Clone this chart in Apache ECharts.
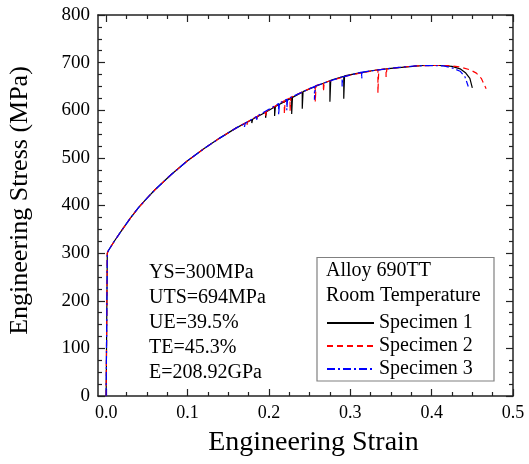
<!DOCTYPE html>
<html>
<head>
<meta charset="utf-8">
<script src="https://cdn.jsdelivr.net/npm/echarts@6/dist/echarts.min.js"></script>
<style>html,body{margin:0;padding:0;background:#fff}#c{width:529px;height:464px}</style>
</head>
<body>
<div id="c"></div>
<script>
// ---- data ----
var seriesNames = ['Specimen 1', 'Specimen 2', 'Specimen 3'];
var xMajorTicks = [0, 0.1, 0.2, 0.3, 0.4, 0.5];
var xMinorTicks = [0.025, 0.05, 0.075, 0.125, 0.15, 0.175, 0.225, 0.25, 0.275, 0.325, 0.35, 0.375, 0.425, 0.45, 0.475];
var titleLines = ['Alloy 690TT', 'Room Temperature'];
var propertyLines = ['YS=300MPa', 'UTS=694MPa', 'UE=39.5%', 'TE=45.3%', 'E=208.92GPa'];

var specimen1 = [[0,0],[0.0014,300],[0.003,306],[0.01,325],[0.02,350],[0.03,374],[0.04,396],[0.05,415],[0.06,433],[0.08,465],[0.10,494],[0.12,519],[0.14,542],[0.16,563],
 [0.179,580],[0.179,573],[0.180,581],[0.196,596],[0.196,584],[0.197,597],[0.207,607],[0.207,588],[0.208,608],[0.228,626],[0.228,592],[0.229,627],
 [0.241,638],[0.241,603],[0.242,639],[0.26,652],[0.275,662],[0.275,618],[0.276,663],[0.292,671],[0.292,624],[0.293,672],[0.31,678],[0.33,684],
 [0.35,688],[0.37,691],[0.39,694],[0.41,694],[0.425,692],[0.435,687],[0.442,678],[0.447,667],[0.45,647]];

var specimen2 = [[0,0],[0.0014,300],[0.003,306],[0.01,325],[0.02,350],[0.03,374],[0.04,396],[0.05,415],[0.06,433],[0.08,465],[0.10,494],[0.12,519],[0.14,542],[0.16,563],
 [0.173,575],[0.173,569],[0.174,576],[0.185,587],[0.185,578],[0.186,588],[0.196,597],[0.196,586],[0.197,598],[0.219,620],[0.219,592],[0.220,621],
 [0.226,626],[0.226,598],[0.227,627],[0.257,651],[0.257,618],[0.258,652],[0.267,657],[0.267,639],[0.268,658],[0.30,674],[0.334,685],[0.334,636],
 [0.335,685],[0.344,687],[0.344,670],[0.345,687],[0.36,690],[0.38,693],[0.40,694],[0.42,694],[0.435,691],[0.447,685],[0.455,678],[0.461,667],[0.467,645]];

var specimen3 = [[0,0],[0.0014,300],[0.003,306],[0.01,325],[0.02,350],[0.03,374],[0.04,396],[0.05,415],[0.06,433],[0.08,465],[0.10,494],[0.12,519],[0.14,542],[0.16,563],
 [0.170,572],[0.170,565],[0.171,573],[0.185,587],[0.185,580],[0.186,588],[0.212,614],[0.212,590],[0.213,615],[0.222,623],[0.222,600],[0.223,624],
 [0.256,650],[0.256,622],[0.257,651],[0.290,670],[0.290,650],[0.291,670],[0.314,680],[0.314,666],[0.315,680],[0.34,686],[0.36,690],[0.38,693],
 [0.40,694],[0.415,693],[0.425,689],[0.435,682],[0.441,670],[0.445,650]];

var seriesData = [specimen1, specimen2, specimen3];
// ---------------------------------------

var FONT = '"Liberation Serif", "Times New Roman", serif';
var AX = '#222';
var colors = ['#000000', '#ff0000', '#0000ff'];
var dashes = ['solid', [6, 4], [8, 3, 2, 3]];

function xAxisDef(pos, ticks, len, withLabel, withLine) {
  var a = {
    type: 'value', position: pos, min: -0.01, max: 0.5, gridIndex: 0,
    axisLine: { show: withLine, onZero: false, lineStyle: { color: AX, width: 1.5 } },
    axisTick: { show: true, inside: true, length: len, customValues: ticks, lineStyle: { color: AX, width: 1.2 } },
    axisLabel: { show: false },
    splitLine: { show: false }
  };
  if (withLabel) {
    a.axisLabel = { show: true, customValues: xMajorTicks, margin: 8, color: '#000', fontSize: 18, fontFamily: FONT,
      formatter: function (v) { return v.toFixed(1); } };
    a.name = 'Engineering Strain';
    a.nameLocation = 'middle';
    a.nameGap = 33;
    a.nameMoveOverlap = false;
    a.nameTextStyle = { fontSize: 28, fontFamily: FONT, color: '#000', padding: [0, 0, 0, 16] };
  }
  return a;
}
function yAxisDef(pos, withLabel) {
  var a = {
    type: 'value', position: pos, min: 0, max: 800, interval: 100, gridIndex: 0,
    axisLine: { show: true, onZero: false, lineStyle: { color: AX, width: 1.5 } },
    axisTick: { show: true, inside: true, length: 7, lineStyle: { color: AX, width: 1.2 } },
    minorTick: { show: true, splitNumber: 4, length: 4, lineStyle: { color: AX, width: 1.2 } },
    axisLabel: { show: false },
    splitLine: { show: false }
  };
  if (withLabel) {
    a.axisLabel = { show: true, margin: 8, color: '#000', fontSize: 19, fontFamily: FONT };
    a.name = 'Engineering Stress (MPa)';
    a.nameLocation = 'middle';
    a.nameGap = 65;
    a.nameMoveOverlap = false;
    a.nameTextStyle = { fontSize: 26, fontFamily: FONT, color: '#000', padding: [0, 0, 0, 10] };
  }
  return a;
}

var chart = echarts.init(document.getElementById('c'), null, { renderer: 'canvas' });
var series = seriesNames.map(function (n, i) {
  return {
    name: n, type: 'line', data: seriesData[i], xAxisIndex: 0, yAxisIndex: 0,
    showSymbol: false, symbol: 'none', smooth: false, animation: false,
    lineStyle: { color: colors[i], width: 1.2, type: dashes[i] },
    itemStyle: { color: colors[i] }
  };
});

var graphics = [
  { type: 'rect', shape: { x: 317, y: 257.5, width: 177, height: 123.5 }, style: { fill: 'none', stroke: '#808080', lineWidth: 1.2 }, z: 10 }
];
titleLines.forEach(function (t, i) {
  graphics.push({ type: 'text', x: 326, y: 271 + i * 25, style: { text: t, font: '20px ' + FONT, fill: '#000', verticalAlign: 'middle' }, z: 11 });
});
propertyLines.forEach(function (t, i) {
  graphics.push({ type: 'text', x: 149, y: 273 + i * 25, style: { text: t, font: '20px ' + FONT, fill: '#000', verticalAlign: 'middle' }, z: 11 });
});

chart.setOption({
  animation: false,
  backgroundColor: '#fff',
  grid: { left: 98, right: 16, top: 15, bottom: 68, containLabel: false, outerBoundsMode: 'none' },
  xAxis: [
    xAxisDef('bottom', xMajorTicks, 7, true, true),
    xAxisDef('bottom', xMinorTicks, 4, false, false),
    xAxisDef('top', xMajorTicks, 7, false, true),
    xAxisDef('top', xMinorTicks, 4, false, false)
  ],
  yAxis: [yAxisDef('left', true), yAxisDef('right', false)],
  legend: {
    data: seriesNames, orient: 'vertical', left: 326, top: 313, padding: 0,
    itemWidth: 47, itemHeight: 12, itemGap: 3, selectedMode: false,
    itemStyle: { opacity: 0 },
    textStyle: { fontSize: 20, fontFamily: FONT, color: '#000', lineHeight: 20 }
  },
  graphic: graphics,
  series: series
});
</script>
</body>
</html>
